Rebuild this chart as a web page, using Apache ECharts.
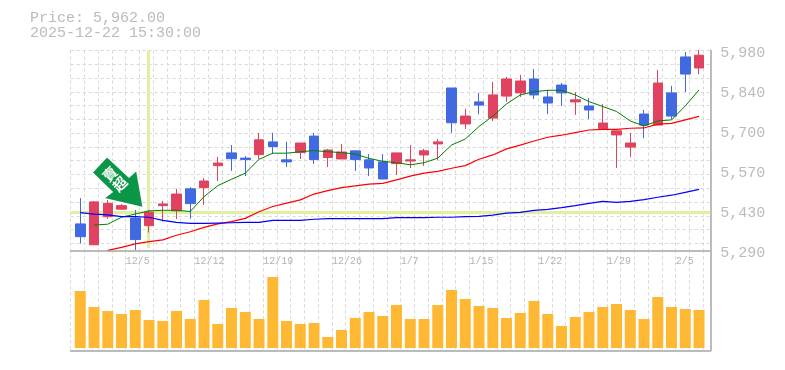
<!DOCTYPE html>
<html>
<head>
<meta charset="utf-8">
<style>
html, body { margin: 0; padding: 0; background: #fff; }
#main { width: 785px; height: 370px; }
</style>
<script src="https://cdn.jsdelivr.net/npm/echarts@6/dist/echarts.min.js"></script>
</head>
<body>
<div id="main"></div>
<script>
var categories = ['12/1','12/2','12/3','12/4','12/5','12/8','12/9','12/10','12/11','12/12','12/15','12/16','12/17','12/18','12/19','12/22','12/23','12/24','12/25','12/26','12/29','12/30','1/5','1/6','1/7','1/8','1/9','1/13','1/14','1/15','1/16','1/19','1/20','1/21','1/22','1/23','1/26','1/27','1/28','1/29','1/30','2/2','2/3','2/4','2/5','2/6'];
// open, close, low, high
var candles = [
    [5380,5336,5312,5469],[5308,5456,5308,5459],[5405,5451,5398,5463],[5431,5443,5428,5449],[5400,5326,5290,5428],
    [5374,5421,5350,5428],[5443,5449,5388,5459],[5425,5483,5397,5501],[5501,5450,5398,5507],[5505,5528,5446,5538],
    [5581,5590,5528,5611],[5625,5605,5563,5652],[5607,5602,5545,5614],[5619,5670,5604,5694],[5663,5647,5621,5694],
    [5601,5594,5576,5663],[5626,5659,5604,5659],[5683,5602,5587,5694],[5609,5635,5576,5639],[5604,5628,5604,5656],
    [5632,5602,5563,5632],[5601,5573,5545,5621],[5594,5535,5535,5621],[5588,5625,5549,5625],[5597,5601,5573,5652],
    [5618,5632,5580,5639],[5656,5663,5601,5673],[5849,5729,5694,5849],[5725,5752,5708,5777],[5801,5790,5759,5832],
    [5745,5825,5735,5870],[5821,5880,5801,5887],[5832,5873,5818,5894],[5880,5825,5811,5915],[5818,5797,5759,5842],
    [5859,5832,5787,5866],[5801,5808,5756,5835],[5787,5773,5742,5814],[5708,5728,5704,5794],[5687,5701,5573,5701],
    [5645,5659,5611,5694],[5759,5721,5676,5773],[5721,5866,5721,5911],[5832,5752,5742,5856],[5956,5897,5835,5973],
    [5918,5962,5897,5980]
];
var maShort = ['-',5376,5379,5403,5414,5425,5427,5427,5423,5474,5512,5534,5555,5603,5624,5624,5629,5633,5629,5626,5621,5606,5596,5591,5584,5591,5607,5652,5673,5716,5752,5794,5825,5836,5841,5841,5825,5802,5785,5768,5735,5718,5735,5739,5787,5842];
var maMid = ['-','-',5289,5299,5311,5319,5325,5341,5353,5368,5380,5388,5399,5422,5440,5452,5463,5483,5495,5505,5511,5517,5520,5532,5545,5555,5561,5572,5581,5603,5618,5639,5652,5666,5679,5686,5695,5704,5706,5706,5710,5711,5724,5727,5739,5751];
var maLong = [5419,5414,5411,5405,5405,5403,5392,5385,5382,5382,5383,5384,5385,5385,5392,5392,5392,5396,5398,5398,5398,5398,5398,5402,5402,5402,5403,5403,5405,5406,5410,5417,5420,5427,5430,5436,5443,5451,5458,5454,5458,5464,5472,5479,5489,5499];
var volumes = [57,41,37,34,38,28,27,37,29,48,24,40,36,29,71,27,24,25,11,18,30,36,32,43,29,29,43,58,49,42,40,30,35,47,34,22,31,36,41,44,38,29,51,41,39,38];
var priceMin = 5290;
var priceMax = 5980;
var priceStep = 138;

var myChart = echarts.init(document.getElementById('main'), null, { renderer: 'canvas' });

var monoFont = '"Liberation Mono", monospace';
var gridLine = { show: true, lineStyle: { color: '#d8d8d8', type: [3, 3], width: 1 } };
var frameLine = { show: true, onZero: false, lineStyle: { color: '#bbbbbb', width: 2 } };

var option = {
    animation: false,
    backgroundColor: '#ffffff',
    title: {
        text: 'Price: 5,962.00\n2025-12-22 15:30:00',
        left: 30,
        top: 11,
        padding: 0,
        textStyle: { fontFamily: monoFont, fontSize: 15, fontWeight: 'normal', color: '#bbbbbb', lineHeight: 15 }
    },
    // 0: dashed frame of the price panel, 1: candles, 2: volume bars, 3: dashed frame of the volume panel
    grid: [
        { left: 70.7, top: 50.5, width: 639.6, height: 199.8 },
        { left: 73.4, top: 50, width: 632.5, height: 200 },
        { left: 73.4, top: 250, width: 632.5, height: 98 },
        { left: 70.7, top: 250.3, width: 639.6, height: 100 }
    ],
    xAxis: [
        {
            gridIndex: 0, type: 'value', min: 0, max: 46.52, interval: 1,
            axisLine: frameLine, axisTick: { show: false },
            axisLabel: {
                show: true, margin: 6, align: 'left',
                fontFamily: monoFont, fontSize: 10, color: '#b4b4b4',
                hideOverlap: false, showMaxLabel: false,
                formatter: function (k) { return (k + 1) % 5 === 0 ? categories[k] : ''; }
            },
            splitLine: gridLine
        },
        { gridIndex: 1, type: 'category', data: categories, axisLine: { show: false }, axisTick: { show: false }, axisLabel: { show: false }, splitLine: { show: false } },
        { gridIndex: 2, type: 'category', data: categories, axisLine: { show: false }, axisTick: { show: false }, axisLabel: { show: false }, splitLine: { show: false } },
        {
            gridIndex: 3, type: 'value', min: 0, max: 46.52, interval: 1,
            axisLine: frameLine, axisTick: { show: false }, axisLabel: { show: false },
            splitLine: gridLine
        }
    ],
    yAxis: [
        {
            gridIndex: 0, type: 'value', inverse: true, min: 0, max: 14.5, interval: 1, position: 'right',
            axisLine: frameLine, axisTick: { show: false }, axisLabel: { show: false },
            splitLine: gridLine
        },
        {
            gridIndex: 1, type: 'value', min: priceMin, max: priceMax, interval: priceStep, scale: true,
            position: 'right', offset: 4.4,
            axisLine: { show: false }, axisTick: { show: false }, splitLine: { show: false },
            axisLabel: {
                margin: 10, align: 'left', verticalAlign: 'top', padding: [-4, 0, 0, 0],
                fontFamily: monoFont, fontSize: 15, color: '#bbbbbb',
                formatter: function (v) { return (Math.round(v / 10) * 10).toLocaleString('en-US'); }
            }
        },
        { gridIndex: 2, type: 'value', min: 0, max: 98, axisLine: { show: false }, axisTick: { show: false }, axisLabel: { show: false }, splitLine: { show: false } },
        {
            gridIndex: 3, type: 'value', min: 0, max: 1, position: 'right',
            axisLine: frameLine, axisTick: { show: false }, axisLabel: { show: false }, splitLine: { show: false }
        }
    ],
    series: [
        {
            name: 'marks', type: 'line', xAxisIndex: 0, yAxisIndex: 0, data: [], z: 1, silent: true,
            markLine: {
                z: 1, symbol: 'none', silent: true, animation: false, label: { show: false },
                lineStyle: { color: '#e0f0a0', width: 3, type: 'solid' },
                data: [
                    [{ xAxis: 5.65, yAxis: 0 }, { xAxis: 5.65, yAxis: 14.35 }],
                    [{ xAxis: 0, yAxis: 11.76 }, { xAxis: 46.52, yAxis: 11.76 }]
                ]
            }
        },
        {
            name: 'frame2', type: 'line', xAxisIndex: 3, yAxisIndex: 3, data: [], silent: true
        },
        {
            name: 'candle', type: 'candlestick', xAxisIndex: 1, yAxisIndex: 1, data: candles, barWidth: 10, z: 3,
            itemStyle: { color: '#e0425f', color0: '#4169e1', borderColor: '#e0425f', borderColor0: '#4169e1', borderWidth: 1 }
        },
        { name: 'ma5', type: 'line', xAxisIndex: 1, yAxisIndex: 1, data: maShort, showSymbol: false, z: 4, lineStyle: { color: '#008000', width: 1 } },
        { name: 'ma25', type: 'line', xAxisIndex: 1, yAxisIndex: 1, data: maMid, showSymbol: false, z: 4, lineStyle: { color: '#ff0000', width: 1.2 } },
        { name: 'ma75', type: 'line', xAxisIndex: 1, yAxisIndex: 1, data: maLong, showSymbol: false, z: 4, lineStyle: { color: '#0000ff', width: 1.2 } },
        {
            name: 'volume', type: 'bar', xAxisIndex: 2, yAxisIndex: 2, data: volumes, barWidth: 11, z: 3,
            itemStyle: { color: '#ffb833' }
        }
    ],
    graphic: [
        {
            type: 'polygon', z: 100,
            shape: { points: [[107, 156.5], [92, 172.5], [112, 192], [103.5, 198.5], [143.3, 207.7], [136.7, 170], [129, 177]] },
            style: { fill: '#0b9647', stroke: '#ffffff', lineWidth: 1.5 }
        },
        {
            type: 'text', z: 101, x: 110, y: 174, rotation: Math.PI / 4, originX: 0, originY: 0,
            style: { text: '賣', fill: '#ffffff', font: 'bold 14px "Noto Sans CJK TC"', align: 'center', verticalAlign: 'middle' }
        },
        {
            type: 'text', z: 101, x: 120, y: 184, rotation: Math.PI / 4, originX: 0, originY: 0,
            style: { text: '超', fill: '#ffffff', font: 'bold 14px "Noto Sans CJK TC"', align: 'center', verticalAlign: 'middle' }
        }
    ]
};

myChart.setOption(option);
</script>
</body>
</html>
